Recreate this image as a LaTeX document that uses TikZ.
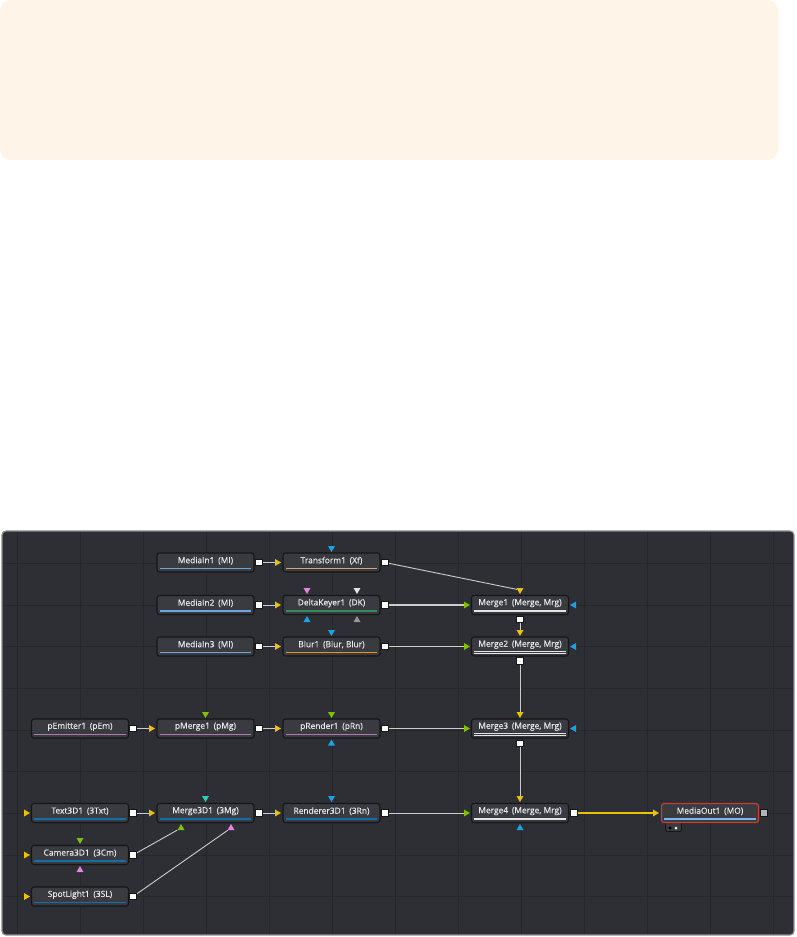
\documentclass[tikz,border=0pt]{standalone}
\usepackage{fontspec}
\setmainfont{Open Sans}
\newfontfamily\nodefont{Open Sans}[FakeBold=0.35]
\usetikzlibrary{shapes.geometric}
\definecolor{beige}{RGB}{254,244,232}
\definecolor{panelbg}{RGB}{46,47,52}
\definecolor{panelborder}{RGB}{140,140,142}
\definecolor{gridc}{RGB}{38,39,43}
\definecolor{nodebg}{RGB}{58,59,64}
\definecolor{nodeedge}{RGB}{22,22,25}
\definecolor{txtc}{RGB}{232,232,234}
\definecolor{wirec}{RGB}{205,205,205}
\definecolor{pyellow}{RGB}{232,196,0}
\definecolor{pgreen}{RGB}{128,192,0}
\definecolor{pcyan}{RGB}{24,162,232}
\definecolor{ppink}{RGB}{228,132,228}
\definecolor{pwhite}{RGB}{228,228,228}
\definecolor{pgray}{RGB}{150,150,150}
\definecolor{pteal}{RGB}{40,208,188}
\definecolor{barblue}{RGB}{112,166,222}
\definecolor{bartan}{RGB}{214,164,112}
\definecolor{bargreen}{RGB}{52,140,92}
\definecolor{barorange}{RGB}{232,152,24}
\definecolor{barpink}{RGB}{172,122,172}
\definecolor{bardark}{RGB}{20,112,162}
\definecolor{barout}{RGB}{122,182,240}
\definecolor{moborder}{RGB}{196,62,50}
\pgfdeclarelayer{back}
\pgfdeclarelayer{wires}
\pgfsetlayers{back,wires,main}
\tikzset{
  fbox/.style={draw=nodeedge, line width=1.1, fill=nodebg, rounded corners=2.5,
    minimum width=97, minimum height=19, inner sep=0},
  flabel/.style={text=txtc, font=\nodefont\fontsize{8.4}{9}\selectfont, inner sep=0},
  outsq/.style={draw=nodeedge, fill=white, minimum size=6.5, inner sep=0, line width=0.6},
  tri/.style={regular polygon, regular polygon sides=3, minimum size=8, inner sep=0, draw=none},
  triR/.style={tri, shape border rotate=-90},
  triL/.style={tri, shape border rotate=90},
  triD/.style={tri, shape border rotate=180},
  triU/.style={tri},
  wire/.style={draw=wirec, line width=0.9},
  ywire/.style={draw=pyellow, line width=1.1}
}
\newcommand{\fnode}[5]{%
  \node[fbox] (#1) at (#2,#3) {};
  \draw[line width=1.5, #5] ([xshift=3.5,yshift=4]#1.south west) -- ([xshift=-3.5,yshift=4]#1.south east);
  \node[flabel] (#1-t) at ([yshift=1.8]#1.center) {#4};
}
\newcommand{\mnode}[4]{%
  \node[fbox] (#1) at (#2,#3) {};
  \draw[line width=0.7, pwhite] ([xshift=3.5,yshift=5.2]#1.south west) -- ([xshift=-3.5,yshift=5.2]#1.south east);
  \draw[line width=0.7, pwhite] ([xshift=3.5,yshift=3.4]#1.south west) -- ([xshift=-3.5,yshift=3.4]#1.south east);
  \node[flabel] (#1-t) at ([yshift=1.8]#1.center) {#4};
}
\newcommand{\gapsp}{\hspace{0.45em}}
\begin{document}
\begin{tikzpicture}[x=1pt,y=-1pt]
\useasboundingbox (0,0) rectangle (796,937);
\begin{pgfonlayer}{back}
\fill[beige, rounded corners=10] (0,0) rectangle (778,160);
\begin{scope}
  \path[clip, rounded corners=4] (2,531) rectangle (794,935);
  \fill[panelbg] (2,531) rectangle (794,935);
  \foreach \gx in {17,80,...,773} \draw[gridc, line width=0.7] (\gx,531) -- (\gx,935);
  \foreach \k in {0,...,8} \draw[gridc, line width=0.7] (2,563.5+41.65*\k) -- (794,563.5+41.65*\k);
\end{scope}
\draw[panelborder, line width=1.2, rounded corners=4] (2,531) rectangle (794,935);
\end{pgfonlayer}

% ---- row 1
\fnode{mi1}{205.5}{562.5}{MediaIn1\gapsp(MI)}{barblue}
\node[outsq] (mi1o) at (259,562.5) {};
\fnode{tf}{331.5}{562.5}{Transform1\gapsp(Xf)}{bartan}
\node[triR, fill=pyellow] (tfi) at (277,562.5) {};
\node[triD, fill=pcyan] (tft) at (331.5,548) {};
\node[outsq] (tfo) at (385,562.5) {};
% ---- row 2
\fnode{mi2}{205.5}{605}{MediaIn2\gapsp(MI)}{barblue}
\node[outsq] (mi2o) at (259,605) {};
\fnode{dk}{331.5}{605}{DeltaKeyer1\gapsp(DK)}{bargreen}
\node[triR, fill=pyellow] (dki) at (277,605) {};
\node[triD, fill=ppink] (dkt1) at (307,590) {};
\node[triD, fill=pwhite] (dkt2) at (357,590) {};
\node[triU, fill=pcyan] (dkb1) at (307,620) {};
\node[triU, fill=pgray] (dkb2) at (357,620) {};
\node[outsq] (dko) at (385,605) {};
% ---- row 3
\fnode{mi3}{205.5}{646.5}{MediaIn3\gapsp(MI)}{barblue}
\node[outsq] (mi3o) at (259,646.5) {};
\fnode{bl}{331.5}{646.5}{Blur1\gapsp(Blur, Blur)}{barorange}
\node[triR, fill=pyellow] (bli) at (277,646.5) {};
\node[triD, fill=pcyan] (blt) at (331.5,632) {};
\node[outsq] (blo) at (385,646.5) {};
% ---- merges
\mnode{m1}{520}{605}{Merge1\gapsp(Merge, Mrg)}
\node[triR, fill=pgreen] (m1l) at (466,605) {};
\node[triD, fill=pyellow] (m1t) at (520,590) {};
\node[triL, fill=pcyan] (m1r) at (574,605) {};
\node[outsq] (m1o) at (520,619.5) {};
\mnode{m2}{520}{646.5}{Merge2\gapsp(Merge, Mrg)}
\node[triR, fill=pgreen] (m2l) at (466,646.5) {};
\node[triD, fill=pyellow] (m2t) at (520,632) {};
\node[triL, fill=pcyan] (m2r) at (574,646.5) {};
\node[outsq] (m2o) at (520,661) {};
\mnode{m3}{520}{728.5}{Merge3\gapsp(Merge, Mrg)}
\node[triR, fill=pgreen] (m3l) at (466,728.5) {};
\node[triD, fill=pyellow] (m3t) at (520,714) {};
\node[triL, fill=pcyan] (m3r) at (574,728.5) {};
\node[outsq] (m3o) at (520,743.5) {};
\mnode{m4}{520}{813}{Merge4\gapsp(Merge, Mrg)}
\node[triR, fill=pgreen] (m4l) at (466,813) {};
\node[triD, fill=pyellow] (m4t) at (520,798) {};
\node[triU, fill=pcyan] (m4b) at (520,828) {};
\node[outsq] (m4o) at (574,813) {};
% ---- particles
\fnode{pe}{80}{728.5}{pEmitter1\gapsp(pEm)}{barpink}
\node[outsq] (peo) at (133,728.5) {};
\fnode{pm}{205.5}{728.5}{pMerge1\gapsp(pMg)}{barpink}
\node[triR, fill=pyellow] (pmi) at (151,728.5) {};
\node[triD, fill=pgreen] (pmt) at (205.5,714) {};
\node[outsq] (pmo) at (259,728.5) {};
\fnode{pr}{331.5}{728.5}{pRender1\gapsp(pRn)}{barpink}
\node[triR, fill=pyellow] (pri) at (277,728.5) {};
\node[triD, fill=pgreen] (prt) at (331.5,714) {};
\node[triU, fill=pcyan] (prb) at (331.5,743.5) {};
\node[outsq] (pro) at (385,728.5) {};
% ---- 3D
\fnode{tx}{80}{813}{Text3D1\gapsp(3Txt)}{bardark}
\node[triR, fill=pyellow] (txi) at (26,813) {};
\node[outsq] (txo) at (133,813) {};
\fnode{m3d}{205.5}{813}{Merge3D1\gapsp(3Mg)}{bardark}
\node[triR, fill=pyellow] (m3di) at (151,813) {};
\node[triD, fill=pteal] (m3dt) at (205.5,798) {};
\node[triU, fill=pgreen] (m3dg) at (181,828) {};
\node[triU, fill=ppink] (m3dp) at (231,828) {};
\node[outsq] (m3do) at (259,813) {};
\fnode{r3}{331.5}{813}{Renderer3D1\gapsp(3Rn)}{bardark}
\node[triR, fill=pyellow] (r3i) at (277,813) {};
\node[triD, fill=pcyan] (r3t) at (331.5,798) {};
\node[outsq] (r3o) at (385,813) {};
\fnode{cm}{80}{855}{Camera3D1\gapsp(3Cm)}{bardark}
\node[triR, fill=pyellow] (cmi) at (26,855) {};
\node[triD, fill=pgreen] (cmt) at (80,840) {};
\node[triU, fill=ppink] (cmb) at (80,870) {};
\node[outsq] (cmo) at (133,855) {};
\fnode{sl}{80}{896.5}{SpotLight1\gapsp(3SL)}{bardark}
\node[triR, fill=pyellow] (sli) at (26,896.5) {};
\node[outsq] (slo) at (133,896.5) {};
% ---- media out
\node[draw=nodeedge, fill=nodebg, rounded corners=1.5, minimum width=16, minimum height=10, inner sep=0, line width=0.8] (motab) at (673.5,826.5) {};
\fill[black] (670,828) circle (1.7);
\fill[white] (676,828) circle (1.5);
\node[fbox, draw=moborder, line width=1.2] (mo) at (710,813) {};
\draw[line width=1.5, barout] ([xshift=3.5,yshift=4]mo.south west) -- ([xshift=-3.5,yshift=4]mo.south east);
\node[flabel] (mo-t) at ([yshift=1.8]mo.center) {MediaOut1\gapsp(MO)};
\node[triR, fill=pyellow] (moi) at (655,813) {};
\node[outsq, fill=pgray!70] (moo) at (764,813) {};

% ---- connectors
\begin{pgfonlayer}{wires}
\draw[wire] (mi1o) -- (tfi);
\draw[wire] (mi2o) -- (dki);
\draw[wire] (mi3o) -- (bli);
\draw[wire] (tfo) -- (m1t);
\draw[wire, line width=1.3] (dko) -- (m1l);
\draw[wire, line width=1.3] (blo) -- (m2l);
\draw[wire] (m1o) -- (m2t);
\draw[wire] (m2o) -- (m3t);
\draw[wire] (m3o) -- (m4t);
\draw[wire] (peo) -- (pmi);
\draw[wire] (pmo) -- (pri);
\draw[wire] (pro) -- (m3l);
\draw[wire] (txo) -- (m3di);
\draw[wire] (m3do) -- (r3i);
\draw[wire] (r3o) -- (m4l);
\draw[wire] (cmo) -- (m3dg);
\draw[wire] (slo) -- (m3dp);
\draw[ywire] (m4o) -- (moi);
\end{pgfonlayer}
\end{tikzpicture}
\end{document}
